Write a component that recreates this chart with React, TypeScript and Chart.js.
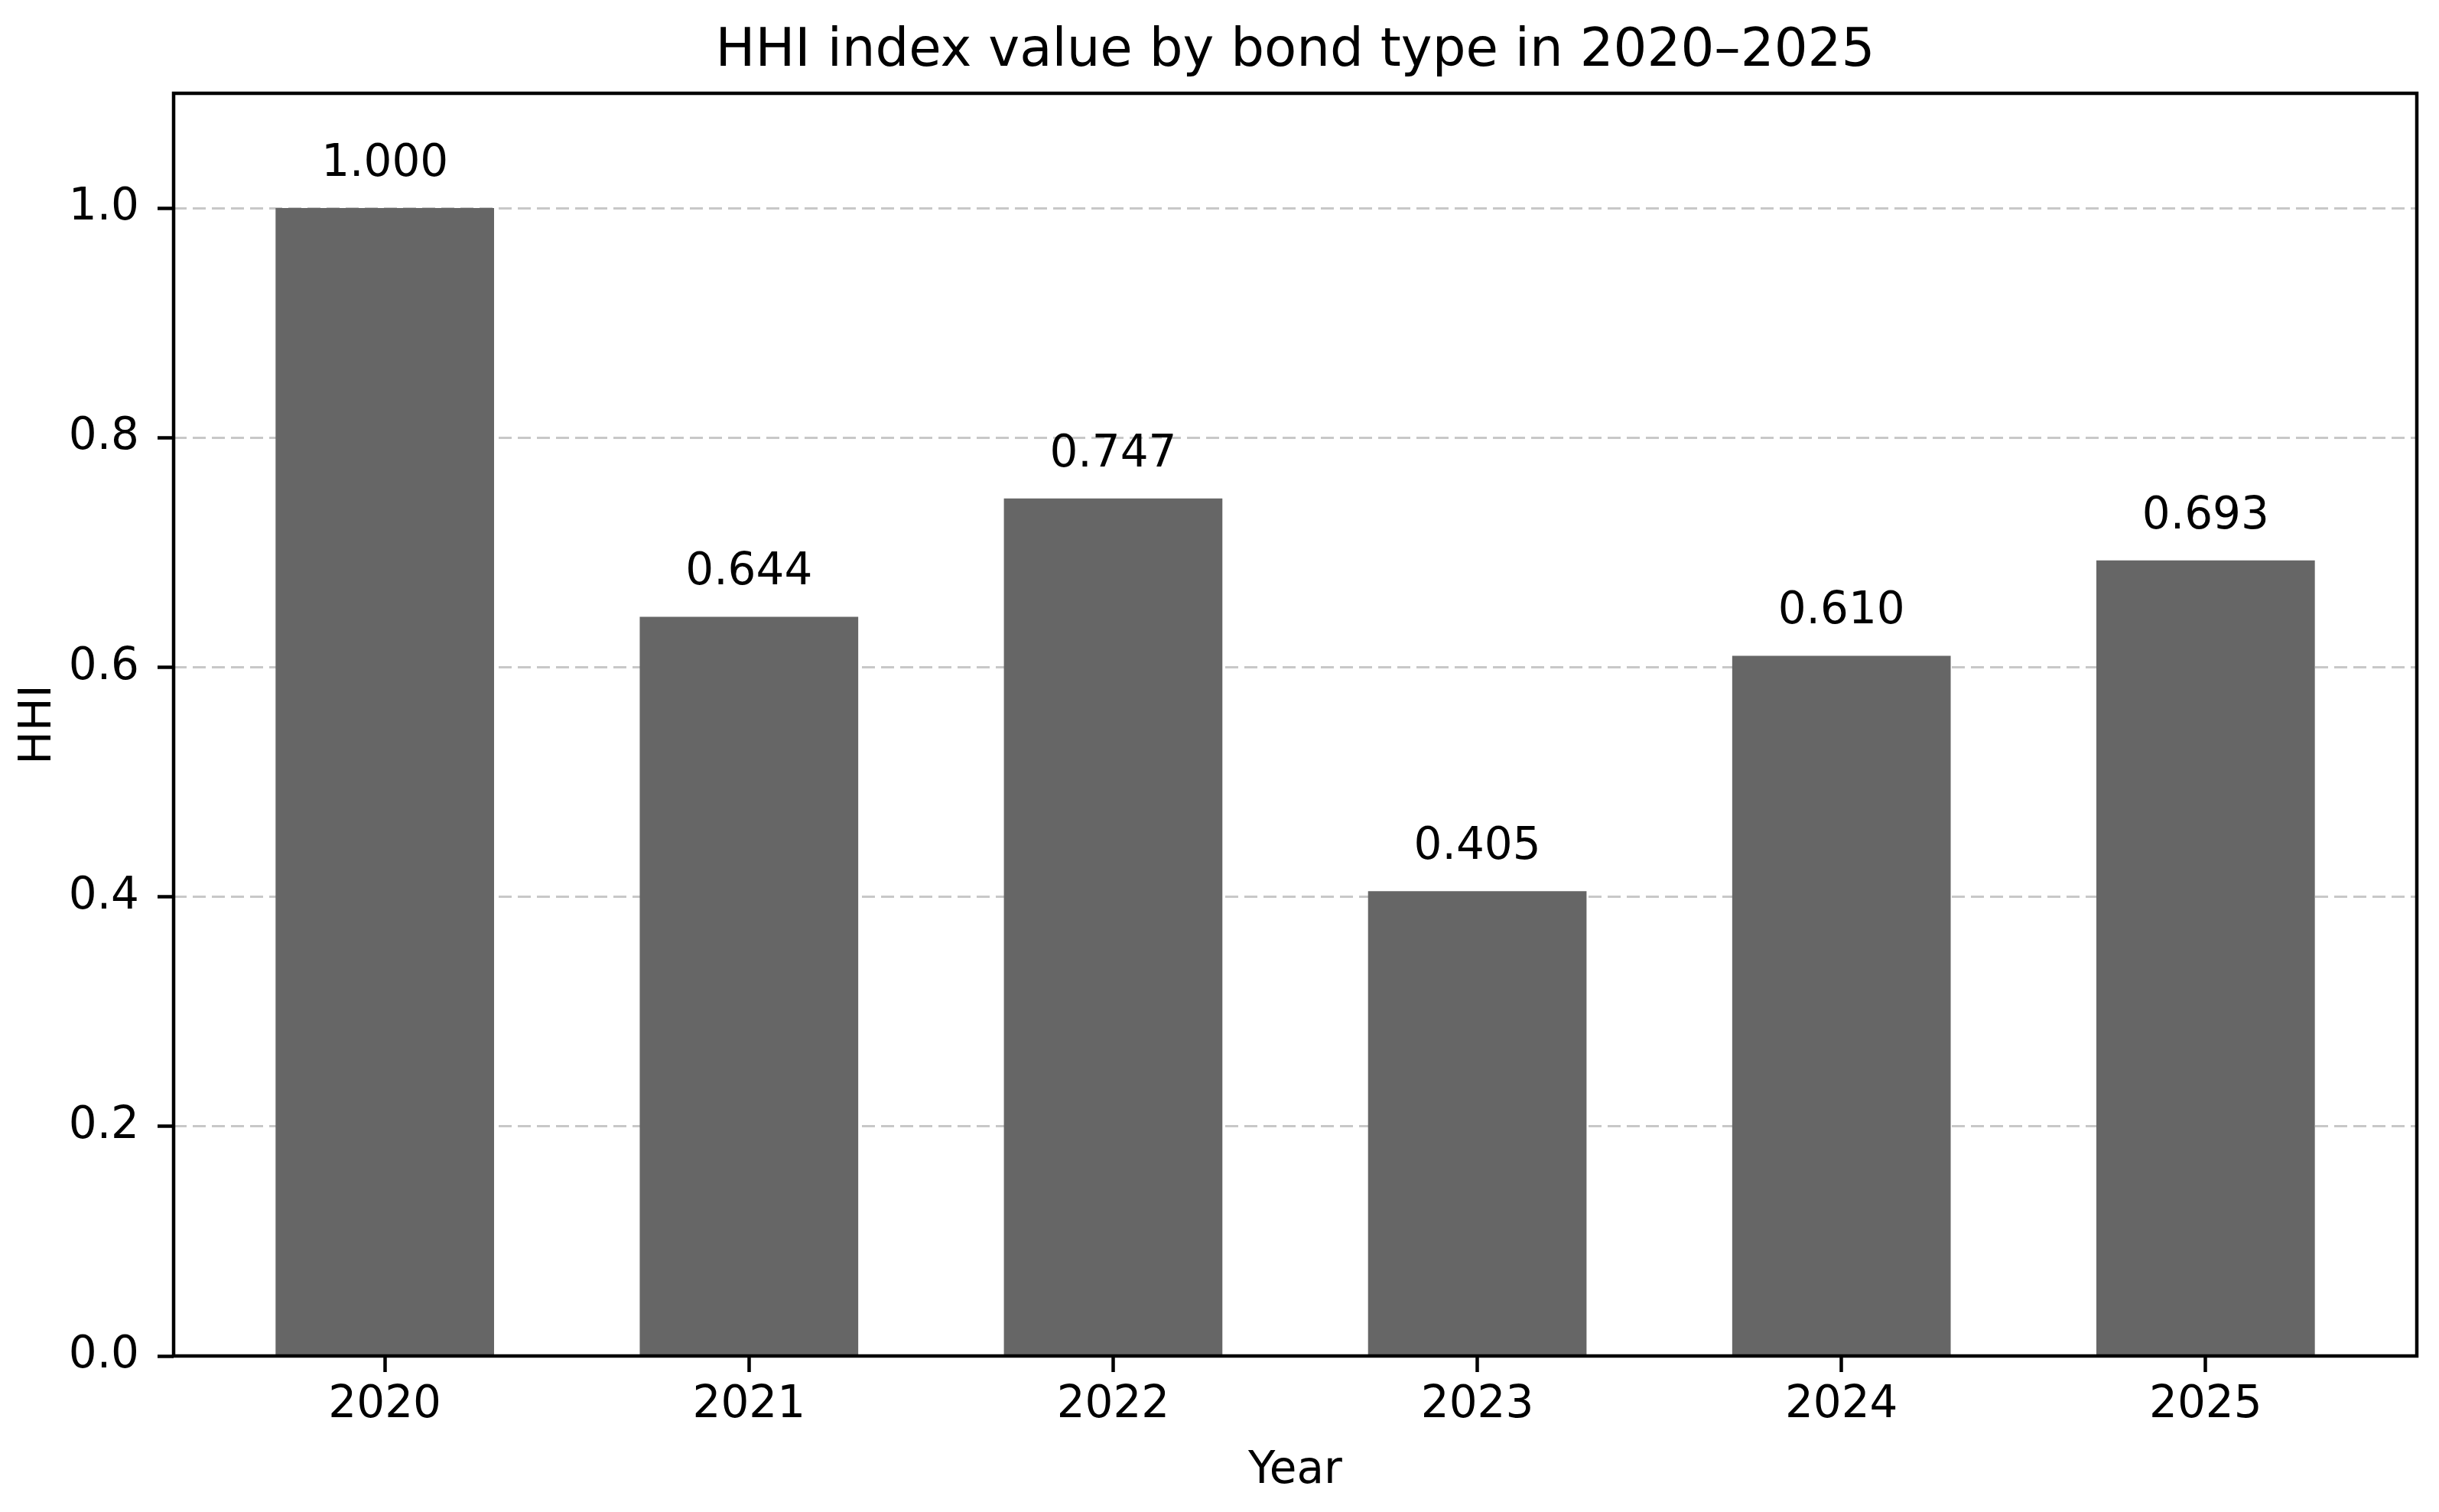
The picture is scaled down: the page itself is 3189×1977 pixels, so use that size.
import React, { useEffect, useRef } from "react";
import { Chart, registerables } from "chart.js";

Chart.register(...registerables);

const years = ["2020", "2021", "2022", "2023", "2024", "2025"];
const hhiValues = [1.0, 0.644, 0.747, 0.405, 0.61, 0.693];
const yTickValues = [0, 0.2, 0.4, 0.6, 0.8, 1.0];

const FONT = "'DejaVu Sans', 'Liberation Sans', sans-serif";
const W = 3189;
const H = 1977;

// titles, value labels and the axes frame, drawn like matplotlib does
const decorPlugin = {
  id: "decor",
  afterDatasetsDraw(chart: any) {
    const { ctx, chartArea } = chart;
    const meta = chart.getDatasetMeta(0);
    ctx.save();
    ctx.fillStyle = "#000";
    ctx.font = `58px ${FONT}`;
    ctx.textAlign = "center";
    ctx.textBaseline = "alphabetic";
    meta.data.forEach((bar: any, i: number) => {
      ctx.fillText(hhiValues[i].toFixed(3), bar.x, bar.y - 42);
    });

    ctx.strokeStyle = "#000";
    ctx.lineWidth = 4.5;
    ctx.strokeRect(
      chartArea.left,
      chartArea.top,
      chartArea.right - chartArea.left,
      chartArea.bottom - chartArea.top
    );

    const cx = (chartArea.left + chartArea.right) / 2;
    const cy = (chartArea.top + chartArea.bottom) / 2;
    ctx.font = `69px ${FONT}`;
    ctx.fillText("HHI index value by bond type in 2020–2025", cx, chartArea.top - 36);

    ctx.font = `58px ${FONT}`;
    ctx.fillText("Year", cx, 1939);

    ctx.translate(66, cy);
    ctx.rotate(-Math.PI / 2);
    ctx.fillText("HHI", 0, 0);
    ctx.restore();
  },
};

export default function App() {
  const canvasRef = useRef<HTMLCanvasElement | null>(null);

  useEffect(() => {
    document.body.style.margin = "0";
    if (!canvasRef.current) return;
    const chart = new Chart(canvasRef.current, {
      type: "bar",
      data: {
        datasets: [
          {
            label: "HHI",
            data: hhiValues.map((v, i) => ({ x: i, y: v })),
            backgroundColor: "#666666",
            borderWidth: 0,
            barPercentage: 0.6,
            categoryPercentage: 1,
          },
        ],
      },
      options: {
        animation: false,
        responsive: false,
        devicePixelRatio: 1,
        layout: { padding: { top: 122, right: 29, left: 0, bottom: 0 } },
        plugins: {
          legend: { display: false },
          title: { display: false },
          tooltip: { enabled: false },
        },
        scales: {
          x: {
            type: "linear",
            min: -0.58,
            max: 5.58,
            offset: false,
            afterFit: (scale: any) => {
              scale.height = 204;
            },
            afterBuildTicks: (scale: any) => {
              scale.ticks = years.map((_, i) => ({ value: i }));
            },
            ticks: {
              color: "#000",
              font: { family: FONT, size: 58 },
              padding: 9,
              maxRotation: 0,
              autoSkip: false,
              callback: (value: any) => years[Math.round(Number(value))] ?? "",
            },
            grid: {
              offset: false,
              drawOnChartArea: false,
              drawTicks: true,
              tickLength: 21,
              tickColor: "#000",
              tickWidth: 4.5,
            },
            border: { display: false },
          },
          y: {
            type: "linear",
            min: 0,
            max: 1.1,
            afterFit: (scale: any) => {
              scale.width = 227;
            },
            afterBuildTicks: (scale: any) => {
              scale.ticks = yTickValues.map((v) => ({ value: v }));
            },
            ticks: {
              color: "#000",
              font: { family: FONT, size: 58 },
              padding: 24,
              callback: (value: any) => Number(value).toFixed(1),
            },
            grid: {
              color: "#c8c8c8",
              lineWidth: 3,
              drawTicks: true,
              tickLength: 21,
              tickColor: "#000",
              tickWidth: 4.5,
              tickBorderDash: [],
            },
            border: { display: false, dash: [17, 8] },
          },
        },
      },
      plugins: [decorPlugin],
    });
    return () => chart.destroy();
  }, []);

  return (
    <div style={{ width: W, height: H, background: "#fff" }}>
      <canvas ref={canvasRef} width={W} height={H} style={{ width: W, height: H }} />
    </div>
  );
}
